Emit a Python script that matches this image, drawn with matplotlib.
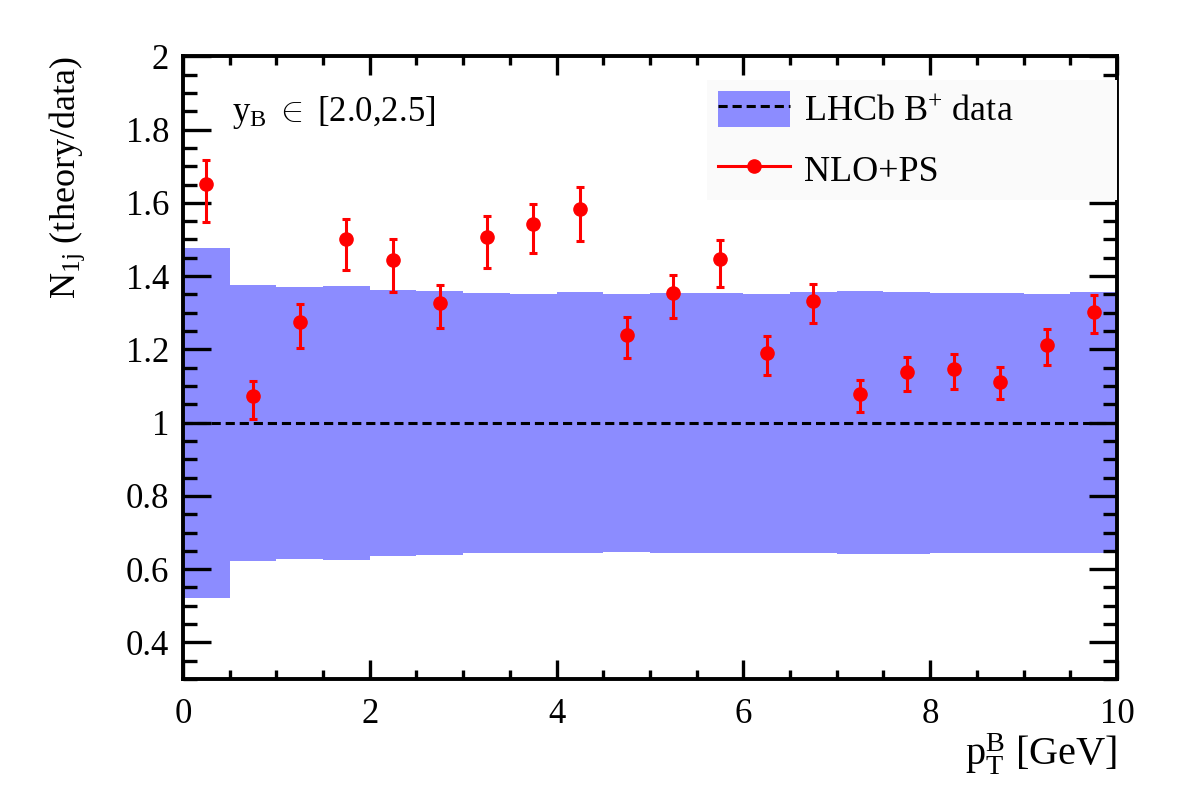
import numpy as np
import matplotlib.pyplot as plt
from matplotlib.patches import Patch
from matplotlib.lines import Line2D
from matplotlib.ticker import MultipleLocator

plt.rcParams['font.family'] = 'serif'
plt.rcParams['font.serif'] = ['Liberation Serif', 'DejaVu Serif']
plt.rcParams['mathtext.fontset'] = 'custom'
plt.rcParams['mathtext.rm'] = 'Liberation Serif'
plt.rcParams['mathtext.it'] = 'Liberation Serif:italic'

# bins in pT (GeV)
bin_lo = np.arange(0.0, 10.0, 0.5)
bin_c = bin_lo + 0.25

# LHCb data uncertainty band (relative)
band_hi = [1.478, 1.375, 1.370, 1.372, 1.362, 1.358, 1.354, 1.352, 1.356, 1.351,
           1.353, 1.353, 1.351, 1.356, 1.358, 1.357, 1.353, 1.354, 1.351, 1.357]
band_lo = [0.520, 0.623, 0.627, 0.626, 0.636, 0.639, 0.644, 0.645, 0.643, 0.647,
           0.645, 0.645, 0.645, 0.644, 0.641, 0.642, 0.645, 0.645, 0.645, 0.644]

# NLO+PS / data ratio
nlo = [1.651, 1.073, 1.275, 1.500, 1.444, 1.327, 1.506, 1.542, 1.582, 1.240,
       1.353, 1.446, 1.189, 1.332, 1.078, 1.139, 1.146, 1.112, 1.211, 1.301]
nlo_up = [1.718, 1.115, 1.323, 1.555, 1.501, 1.377, 1.564, 1.598, 1.644, 1.288,
          1.403, 1.498, 1.236, 1.379, 1.116, 1.180, 1.187, 1.153, 1.256, 1.348]
nlo_dn = [1.547, 1.011, 1.203, 1.416, 1.356, 1.257, 1.423, 1.462, 1.495, 1.176,
          1.285, 1.370, 1.130, 1.271, 1.028, 1.085, 1.092, 1.065, 1.157, 1.244]

band_col = '#8c8cff'

fig = plt.figure(figsize=(11.82, 8.05), dpi=100)
ax = fig.add_axes([0.1548, 0.1565, 0.7902, 0.7735])

ax.bar(bin_lo, np.array(band_hi) - np.array(band_lo), bottom=band_lo, width=0.5,
       align='edge', color=band_col, linewidth=0, zorder=1)
ax.axhline(1.0, color='black', lw=2.2, dashes=(3, 1.6), zorder=2)

nlo = np.array(nlo)
yerr = [nlo - np.array(nlo_dn), np.array(nlo_up) - nlo]
ax.errorbar(bin_c, nlo, yerr=yerr, fmt='o', color='#ff0000', ms=9.5,
            elinewidth=2.2, capsize=2.6, capthick=2.2, zorder=3)

ax.set_xlim(0, 10)
ax.set_ylim(0.3, 2.0)
ax.xaxis.set_minor_locator(MultipleLocator(0.5))
ax.yaxis.set_minor_locator(MultipleLocator(0.05))
ax.set_yticks([0.4, 0.6, 0.8, 1.0, 1.2, 1.4, 1.6, 1.8, 2.0])
ax.set_yticklabels(['0.4', '0.6', '0.8', '1', '1.2', '1.4', '1.6', '1.8', '2'])
ax.set_xticks([0, 2, 4, 6, 8, 10])
ax.set_xticklabels(['0', '2', '4', '6', '8', '10'])

ax.tick_params(axis='both', which='both', direction='in', top=True, right=True,
               width=2.4, color='black')
ax.tick_params(axis='y', which='major', length=20, labelsize=25, pad=10)
ax.tick_params(axis='y', which='minor', length=10)
ax.tick_params(axis='x', which='major', length=13.5, labelsize=25, pad=14)
ax.tick_params(axis='x', which='minor', length=6.5)
for s in ax.spines.values():
    s.set_linewidth(2.8)

ax.set_xlabel(r'p$_{\mathrm{T}}^{\mathrm{B}}$ [GeV]', fontsize=29, loc='right', labelpad=0)
ax.set_ylabel(r'N$_{\mathrm{1j}}$ (theory/data)', fontsize=26, loc='top', labelpad=28)

ax.text(0.053, 0.896, r'y$_{\mathrm{B}}$ $\in$ [2.0,2.5]', transform=ax.transAxes,
        fontsize=25, ha='left', va='baseline')

h1 = (Patch(facecolor=band_col, edgecolor='none'),
      Line2D([], [], color='black', lw=2.2, dashes=(3, 1.6)))
h2 = Line2D([], [], color='#ff0000', lw=2.2, marker='o', ms=9.5)
leg = ax.legend([h1, h2], [r'LHCb B$^{+}$ data', 'NLO+PS'], loc='upper left',
                bbox_to_anchor=(0.561, 0.772, 0.439, 0.190), mode='expand',
                borderaxespad=0, fontsize=26,
                handlelength=2.0, handleheight=1.17, labelspacing=0.6,
                borderpad=0.3, handletextpad=0.4, frameon=True, fancybox=False)
leg.get_frame().set_facecolor('#fafafa')
leg.get_frame().set_edgecolor('none')
leg.get_frame().set_alpha(1.0)

fig.savefig('out.png', dpi=100)
